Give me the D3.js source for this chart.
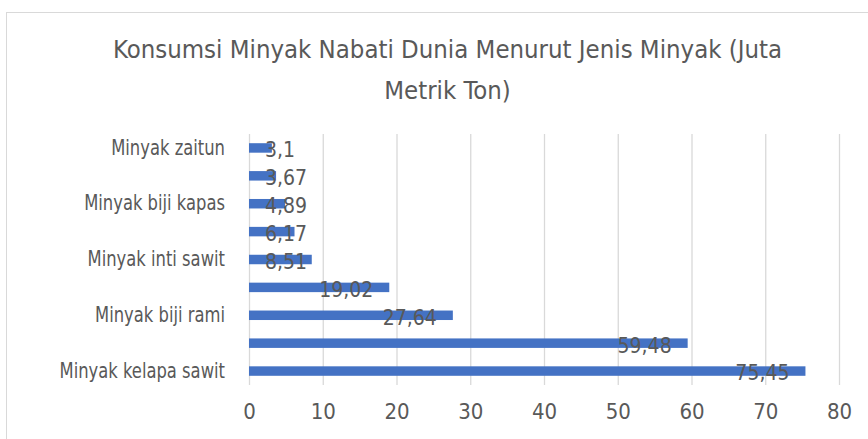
<!DOCTYPE html>
<html>
<head>
<meta charset="utf-8">
<script src="https://cdn.jsdelivr.net/npm/d3@7"></script>
<style>
  body { margin: 0; background: #fff; }
  svg text { font-family: "Liberation Sans Narrow", "DejaVu Sans Condensed", "Liberation Sans", sans-serif; fill: #595959; }
  .grid line { stroke: #d9d9d9; stroke-width: 1.3; }
  .grid .domain { display: none; }
  .axis .domain { display: none; }
</style>
</head>
<body>
<div class="chart"></div>
<script>
"use strict";
// categories from bottom to top (Excel order); hidden ones are skipped by the axis
var categories = [
  "Minyak kelapa sawit", "Minyak kedelai", "Minyak biji rami", "Minyak bunga matahari",
  "Minyak inti sawit", "Minyak kacang tanah", "Minyak biji kapas", "Minyak kelapa", "Minyak zaitun"
];
var values = [75.45, 59.48, 27.64, 19.02, 8.51, 6.17, 4.89, 3.67, 3.1];
var xTicks = [0, 10, 20, 30, 40, 50, 60, 70, 80];
var titleLines = ["Konsumsi Minyak Nabati Dunia Menurut Jenis Minyak (Juta", "Metrik Ton)"];

var W = 868, H = 439;
var margin = { top: 134, right: 29, bottom: 54, left: 249 };

var data = categories.map(function(c, i){ return { cat: c, value: values[i] }; });

var svg = d3.select(".chart").append("svg")
    .attr("width", W).attr("height", H);

// chart frame
svg.append("rect")
    .attr("x", 6.5).attr("y", 12.5)
    .attr("width", 900).attr("height", 500)
    .attr("fill", "#fff").attr("stroke", "#d9d9d9");

// title
svg.append("g").selectAll("text")
    .data(titleLines).enter()
    .append("text")
    .attr("x", 447.5)
    .attr("y", function(d, i){ return 58 + i * 41; })
    .attr("text-anchor", "middle")
    .style("font-size", "25.5px")
    .text(function(d){ return d; });

var x = d3.scaleLinear().domain([0, 80]).range([margin.left, W - margin.right]);
var y = d3.scaleBand()
    .domain(categories.slice().reverse())
    .range([margin.top, H - margin.bottom])
    .paddingInner(0.66).paddingOuter(0.33);

//gridlines
svg.append("g").attr("class", "grid")
    .attr("transform", "translate(0," + (H - margin.bottom) + ")")
    .call(d3.axisBottom(x).tickValues(xTicks).tickSize(-(H - margin.top - margin.bottom)).tickFormat(""));

//bars
svg.append("g").selectAll("rect")
    .data(data).enter()
    .append("rect")
    .attr("x", x(0))
    .attr("y", function(d){ return y(d.cat); })
    .attr("width", function(d){ return x(d.value) - x(0); })
    .attr("height", y.bandwidth())
    .attr("fill", "#4472c4");

//data labels (inside end, kept inside the base for short bars)
svg.append("g").selectAll("text")
    .data(data).enter()
    .append("text")
    .text(function(d){ return String(d.value).replace(".", ","); })
    .style("font-size", "21px")
    .attr("y", function(d){ return y(d.cat) + y.bandwidth() / 2 + 2; })
    .attr("dy", "0.35em")
    .attr("x", function(d){
      var w = this.getComputedTextLength();
      return Math.max(x(d.value) - 16 - w, x(0) + 16);
    });

//x axis labels
var xAxis = svg.append("g").attr("class", "axis")
    .attr("transform", "translate(0," + (H - margin.bottom) + ")")
    .call(d3.axisBottom(x).tickValues(xTicks).tickSize(0).tickPadding(18));
xAxis.selectAll("text").style("font-size", "22px").attr("dy", "0.71em");

//category labels, every other one like Excel does when space is short
var yAxis = svg.append("g").attr("class", "axis")
    .attr("transform", "translate(" + x(0) + ",0)")
    .call(d3.axisLeft(y).tickSize(0).tickPadding(24)
      .tickFormat(function(d){ return categories.indexOf(d) % 2 === 0 ? d : ""; }));
// narrower, taller glyphs like the source font
yAxis.selectAll("text").style("font-size", "18.2px").attr("transform", "scale(1,1.15)");
</script>
</body>
</html>
